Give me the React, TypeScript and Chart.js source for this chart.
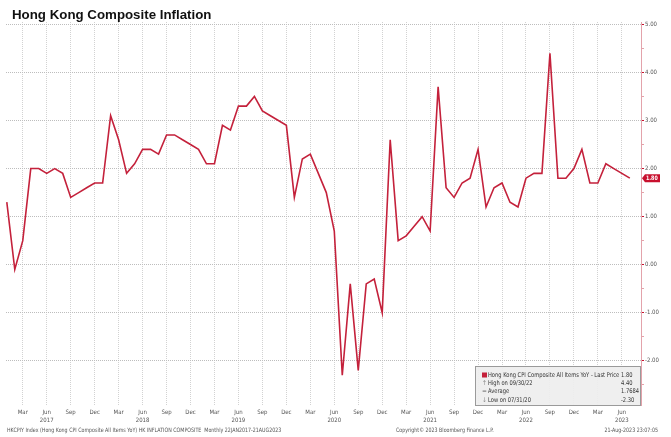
import { useEffect, useRef } from 'react';
import { Chart, registerables } from 'chart.js';

Chart.register(...registerables);

// ---- data ----
const monthNames = ['Jan', 'Feb', 'Mar', 'Apr', 'May', 'Jun', 'Jul', 'Aug', 'Sep', 'Oct', 'Nov', 'Dec'];
const years = [2017, 2018, 2019, 2020, 2021, 2022, 2023];
const cpi2017 = [1.3, -0.1, 0.5, 2.0, 2.0, 1.9, 2.0, 1.9, 1.4, 1.5, 1.6, 1.7];
const cpi2018 = [1.7, 3.1, 2.6, 1.9, 2.1, 2.4, 2.4, 2.3, 2.7, 2.7, 2.6, 2.5];
const cpi2019 = [2.4, 2.1, 2.1, 2.9, 2.8, 3.3, 3.3, 3.5, 3.2, 3.1, 3.0, 2.9];
const cpi2020 = [1.4, 2.2, 2.3, 1.9, 1.5, 0.7, -2.3, -0.4, -2.2, -0.4, -0.3, -1.0];
const cpi2021 = [2.6, 0.5, 0.6, 0.8, 1.0, 0.7, 3.7, 1.6, 1.4, 1.7, 1.8, 2.4];
const cpi2022 = [1.2, 1.6, 1.7, 1.3, 1.2, 1.8, 1.9, 1.9, 4.4, 1.8, 1.8, 2.0];
const cpi2023 = [2.4, 1.7, 1.7, 2.1, 2.0, 1.9, 1.8];
const cpiSeries = [...cpi2017, ...cpi2018, ...cpi2019, ...cpi2020, ...cpi2021, ...cpi2022, ...cpi2023];

const quarterMonths = [2, 5, 8, 11]; // Mar, Jun, Sep, Dec
const yearLabelMonth = 5; // Jun
const yTickValues = [-2.5, -2, -1.5, -1, -0.5, 0, 0.5, 1, 1.5, 2, 2.5, 3, 3.5, 4, 4.5, 5];

const titleText = 'Hong Kong Composite Inflation';
const footerLeft = 'HKCPIY Index (Hong Kong CPI Composite All Items YoY) HK INFLATION COMPOSITE  Monthly 22JAN2017-21AUG2023';
const footerCenter = 'Copyright\u00A9 2023 Bloomberg Finance L.P.';
const footerRight = '21-Aug-2023 23:07:05';
const legendLabels = ['Hong Kong CPI Composite All Items YoY - Last Price', 'High on 09/30/22', 'Average', 'Low on 07/31/20'];
const legendValues = ['1.80', '4.40', '1.7684', '-2.30'];
const legendIcons = ['', '\u2191', '=', '\u2193'];
const lastPriceLabel = '1.80';

const LINE_COLOR = '#c4213b';
const NARROW = '"Liberation Sans Narrow", "DejaVu Sans Condensed", "Liberation Sans", sans-serif';
const SQUEEZE = 0.88;

const xTickIdx: number[] = [];
for (let i = 0; i < cpiSeries.length; i++) {
  if (quarterMonths.includes(i % 12)) xTickIdx.push(i);
}

// draws text horizontally condensed (still real text)
function condensedText(ctx: CanvasRenderingContext2D, text: string, x: number, y: number, align: 'left' | 'right' = 'left') {
  ctx.save();
  ctx.translate(x, y);
  ctx.scale(SQUEEZE, 1);
  ctx.textAlign = align;
  ctx.fillText(text, 0, 0);
  ctx.restore();
}

const overlayPlugin = {
  id: 'overlay',
  afterDraw(chart: any) {
    const { ctx, chartArea: ca, scales } = chart;
    ctx.save();
    // title
    ctx.fillStyle = '#111';
    ctx.font = 'bold 13.3px "Liberation Sans", Arial, sans-serif';
    ctx.textBaseline = 'alphabetic';
    ctx.textAlign = 'left';
    ctx.fillText(titleText, 12, 18.7);

    // footer
    ctx.font = `6px ${NARROW}`;
    ctx.fillStyle = '#555';
    ctx.textBaseline = 'middle';
    condensedText(ctx, footerLeft, 7, 430);
    condensedText(ctx, footerCenter, 396, 430);
    condensedText(ctx, footerRight, 658, 430, 'right');

    // last price tag
    const y = scales.y.getPixelForValue(cpiSeries[cpiSeries.length - 1]);
    const x0 = ca.right + 1;
    ctx.fillStyle = '#c8102e';
    ctx.beginPath();
    ctx.moveTo(x0, y);
    ctx.lineTo(x0 + 3, y - 4);
    ctx.lineTo(x0 + 18, y - 4);
    ctx.lineTo(x0 + 18, y + 4);
    ctx.lineTo(x0 + 3, y + 4);
    ctx.closePath();
    ctx.fill();
    ctx.fillStyle = '#fff';
    ctx.font = `bold 6px ${NARROW}`;
    condensedText(ctx, lastPriceLabel, x0 + 4, y + 0.5);

    // legend box
    const bw = 166;
    const bh = 40;
    const bx = ca.right - bw;
    const by = ca.bottom - 39;
    ctx.fillStyle = 'rgba(238,238,238,0.92)';
    ctx.fillRect(bx, by, bw, bh);
    ctx.strokeStyle = '#9a9a9a';
    ctx.lineWidth = 1;
    ctx.strokeRect(bx + 0.5, by + 0.5, bw - 1, bh - 1);
    ctx.font = `6.5px ${NARROW}`;
    ctx.textBaseline = 'middle';
    legendLabels.forEach((lab, i) => {
      const ry = by + 9 + i * 8.3;
      if (i === 0) {
        ctx.fillStyle = LINE_COLOR;
        ctx.fillRect(bx + 7, ry - 2.5, 5, 5);
      } else {
        ctx.fillStyle = '#888';
        ctx.textAlign = 'center';
        ctx.fillText(legendIcons[i], bx + 9.5, ry);
      }
      ctx.fillStyle = '#333';
      condensedText(ctx, lab, bx + 13, ry);
      condensedText(ctx, legendValues[i], bx + 146, ry);
    });
    ctx.restore();
  },
};

export default function App() {
  const canvasRef = useRef<HTMLCanvasElement | null>(null);

  useEffect(() => {
    const canvas = canvasRef.current;
    if (!canvas) return;
    const chart = new Chart(canvas, {
      type: 'line',
      data: {
        datasets: [
          {
            label: 'Hong Kong CPI Composite All Items YoY',
            data: cpiSeries.map((v, i) => ({ x: i, y: v })),
            borderColor: LINE_COLOR,
            borderWidth: 1.6,
            pointRadius: 0,
            tension: 0,
            fill: false,
          },
        ],
      },
      options: {
        responsive: false,
        maintainAspectRatio: false,
        animation: false,
        layout: { padding: { left: 6, top: 22, right: 0, bottom: 0 } },
        plugins: {
          legend: { display: false },
          tooltip: { enabled: false },
          title: { display: false },
        },
        scales: {
          x: {
            type: 'linear',
            min: -0.1,
            max: 79.4,
            afterBuildTicks: (s: any) => {
              s.ticks = xTickIdx.map((v) => ({ value: v }));
            },
            afterFit: (s: any) => {
              s.height = 32;
            },
            ticks: {
              autoSkip: false,
              maxRotation: 0,
              padding: 3,
              color: '#555',
              font: { family: NARROW, size: 6, lineHeight: 1.35 },
              callback: (v: any) => {
                const i = Number(v);
                const m = i % 12;
                const name = monthNames[m];
                if (m === yearLabelMonth) return [name, String(years[Math.floor(i / 12)])];
                return name;
              },
            },
            grid: { color: '#d2d2d2', lineWidth: 1, drawTicks: false },
            border: { display: false, dash: [1, 1] },
          },
          y: {
            position: 'right',
            min: -2.92,
            max: 5.05,
            afterBuildTicks: (s: any) => {
              s.ticks = yTickValues.map((v) => ({ value: v }));
            },
            afterFit: (s: any) => {
              s.width = 30;
            },
            ticks: {
              autoSkip: false,
              padding: 1,
              color: '#555',
              font: { family: NARROW, size: 6 },
              callback: (v: any) => (Number.isInteger(Number(v)) ? Number(v).toFixed(2) : ''),
            },
            grid: {
              color: (c: any) => (c.tick && Number.isInteger(c.tick.value) ? '#bdbdbd' : 'transparent'),
              lineWidth: 1,
              tickLength: 3,
              tickColor: (c: any) => (c.tick && Number.isInteger(c.tick.value) ? '#c8102e' : '#e3a3ab'),
            },
            border: { display: true, color: '#e3a3ab', width: 1, dash: [1, 1] },
          },
        },
      },
      plugins: [overlayPlugin],
    });
    return () => chart.destroy();
  }, []);

  return (
    <div style={{ position: 'absolute', left: 0, top: 0, width: 671, height: 437, background: '#fff' }}>
      <canvas ref={canvasRef} width={671} height={437} style={{ display: 'block', width: 671, height: 437 }} />
    </div>
  );
}
